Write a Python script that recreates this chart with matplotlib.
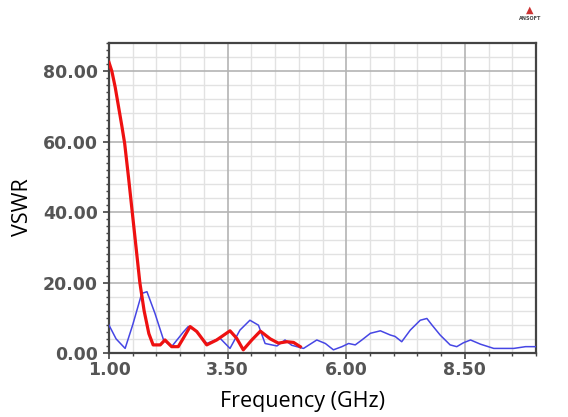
import matplotlib
matplotlib.use("Agg")
import matplotlib.pyplot as plt
from matplotlib.ticker import MultipleLocator, FixedLocator

# ---- data ----
red_freq = [1.00, 1.06, 1.13, 1.20, 1.27, 1.33, 1.41, 1.49, 1.57, 1.65, 1.74, 1.84, 1.93,
            2.08, 2.18, 2.32, 2.46, 2.58, 2.71, 2.85, 3.06, 3.27, 3.55, 3.69, 3.83,
            4.01, 4.19, 4.40, 4.57, 4.75, 4.89, 5.03]
red_vswr = [82.5, 80.0, 75.5, 70.0, 64.5, 59.5, 50.0, 40.0, 30.0, 20.0, 12.0, 5.5, 2.3,
            2.3, 3.7, 1.8, 1.8, 4.5, 7.5, 6.1, 2.3, 3.7, 6.3, 4.2, 0.9,
            3.7, 6.2, 4.0, 2.8, 3.2, 3.0, 1.8]

blue_freq = [1.00, 1.15, 1.34, 1.50, 1.69, 1.80, 1.97, 2.15, 2.32, 2.57, 2.67, 2.81,
             3.06, 3.34, 3.55, 3.76, 3.97, 4.15, 4.29, 4.54, 4.71, 4.85, 5.10, 5.38,
             5.56, 5.73, 5.91, 6.05, 6.19, 6.33, 6.51, 6.72, 6.93, 7.03, 7.17, 7.35,
             7.56, 7.70, 7.81, 7.98, 8.19, 8.33, 8.47, 8.62, 8.83, 9.11, 9.53, 9.78, 10.00]
blue_vswr = [7.9, 4.0, 1.3, 8.0, 16.9, 17.4, 11.2, 3.7, 1.8, 6.0, 7.5, 6.5,
             2.7, 4.2, 1.3, 6.5, 9.3, 7.9, 2.7, 2.0, 3.7, 2.2, 1.3, 3.7,
             2.7, 0.9, 1.8, 2.7, 2.3, 3.7, 5.6, 6.3, 5.1, 4.7, 3.2, 6.5,
             9.3, 9.8, 7.9, 5.1, 2.3, 1.8, 2.9, 3.7, 2.5, 1.3, 1.3, 1.8, 1.8]

x_ticks = [1.00, 3.50, 6.00, 8.50]
y_ticks = [0.00, 20.00, 40.00, 60.00, 80.00]

fig = plt.figure(figsize=(5.68, 4.17), dpi=100)
ax = fig.add_axes([109/568, 1-353/417, (536-109)/568, (353-43)/417])

ax.set_xlim(1, 10)
ax.set_ylim(0, 88)

# grids
ax.xaxis.set_major_locator(FixedLocator(x_ticks))
ax.yaxis.set_major_locator(FixedLocator(y_ticks))
ax.xaxis.set_minor_locator(MultipleLocator(0.5))
ax.yaxis.set_minor_locator(MultipleLocator(2))
ax.grid(which='major', color='#b4b4b4', lw=1.2, zorder=0)
for x in [1.5 + 0.5*i for i in range(18)]:
    if x not in x_ticks:
        ax.axvline(x, color='#e2e2e2', lw=1.0, zorder=0)
for y in range(4, 88, 4):
    if y not in y_ticks:
        ax.axhline(y, color='#e2e2e2', lw=1.0, zorder=0)

ax.plot(blue_freq, blue_vswr, color='#4646e4', lw=1.1, zorder=3)
ax.plot(red_freq, red_vswr, color='#ee1111', lw=2.3, zorder=4)

ax.set_xticklabels([f"{v:.2f}" for v in x_ticks])
ax.set_yticklabels([f"{v:.2f}" for v in y_ticks])
ax.tick_params(axis='both', which='major', labelsize=12.5, labelcolor='#555555',
               color='#444444', length=4, width=1.2, direction='out', pad=2)
ax.tick_params(axis='y', which='major', pad=4)
ax.tick_params(axis='both', which='minor', color='#444444', length=2.5, width=1.0,
               direction='out')
for lab in ax.get_xticklabels() + ax.get_yticklabels():
    lab.set_fontweight('bold')

for sp in ax.spines.values():
    sp.set_color('#444444')
    sp.set_linewidth(1.6)

fig.text(302/568, 1-402/417, "Frequency (GHz)", ha='center', va='center',
         fontsize=15.5, family='Open Sans', color='black')
fig.text(22/568, 1-207/417, "VSWR", ha='center', va='center', rotation=90,
         fontsize=15.5, family='Open Sans', color='black')

# logo
fig.text(530/568, 1-10/417, "\u25B2", ha='center', va='center', fontsize=7, color='#cc3333')
fig.text(530/568, 1-19/417, "ANSOFT", ha='center', va='center', fontsize=3.5,
         color='#444444', fontweight='bold')

fig.savefig("out.png", dpi=100)
